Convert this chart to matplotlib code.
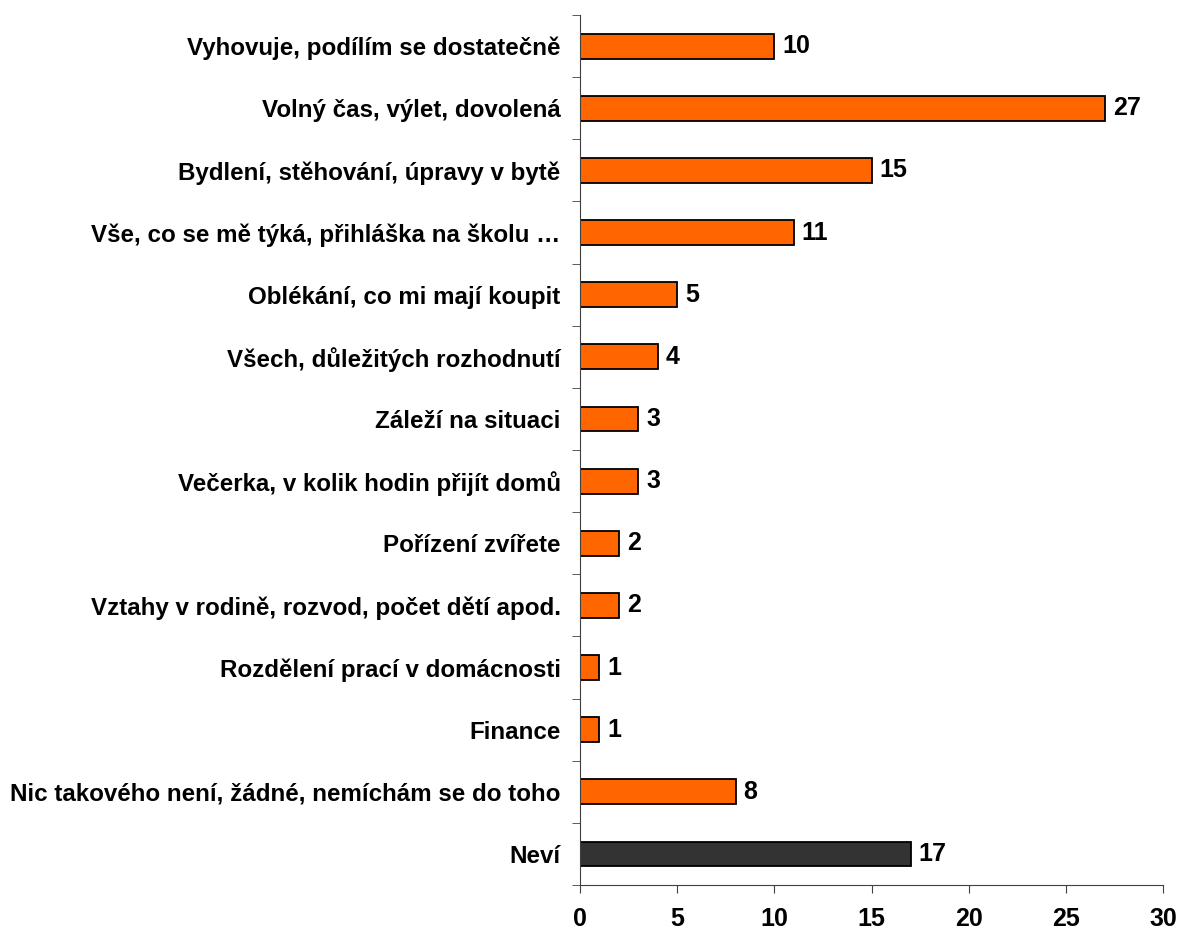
import numpy as np
import matplotlib.pyplot as plt

# Categories (top to bottom)
labels = [
    "Vyhovuje, podílím se dostatečně",
    "Volný čas, výlet, dovolená",
    "Bydlení, stěhování, úpravy v bytě",
    "Vše, co se mě týká, přihláška na školu …",
    "Oblékání, co mi mají koupit",
    "Všech, důležitých rozhodnutí",
    "Záleží na situaci",
    "Večerka, v kolik hodin přijít domů",
    "Pořízení zvířete",
    "Vztahy v rodině, rozvod, počet dětí apod.",
    "Rozdělení prací v domácnosti",
    "Finance",
    "Nic takového není, žádné, nemíchám se do toho",
    "Neví",
]
values = [10, 27, 15, 11, 5, 4, 3, 3, 2, 2, 1, 1, 8, 17]
xticks = [0, 5, 10, 15, 20, 25, 30]

plt.rcParams['font.family'] = ['Liberation Sans', 'DejaVu Sans']

fig = plt.figure(figsize=(11.82, 9.32), dpi=100)
ax = fig.add_axes([0.4907, 0.0504, 0.4935, 0.9335])

colors = ['#FF6600'] * (len(values) - 1) + ['#333333']
y = np.arange(len(labels))
ax.barh(y, values, height=0.4, color=colors, edgecolor='black', linewidth=1.3)

for yi, v in zip(y, values):
    ax.text(v + 0.4, yi, str(v), va='center', ha='left',
            fontsize=18, fontweight='bold')

ax.set_ylim(len(labels) - 0.5, -0.5)
ax.set_xlim(0, 30)
ax.set_xticks(xticks)
ax.set_xticklabels([str(t) for t in xticks], fontsize=18, fontweight='bold')
ax.set_yticks(y)
ax.set_yticklabels(labels, fontsize=17.4, fontweight='bold')
ax.set_yticks(np.arange(len(labels) + 1) - 0.5, minor=True)
ax.tick_params(axis='y', which='major', length=0, pad=14)
ax.tick_params(axis='y', which='minor', length=6, color='#404040', direction='out')
ax.tick_params(axis='x', which='major', length=6, color='#404040', pad=10)

for s in ['top', 'right']:
    ax.spines[s].set_visible(False)
for s in ['left', 'bottom']:
    ax.spines[s].set_color('#404040')

fig.savefig('out.png', dpi=100)
